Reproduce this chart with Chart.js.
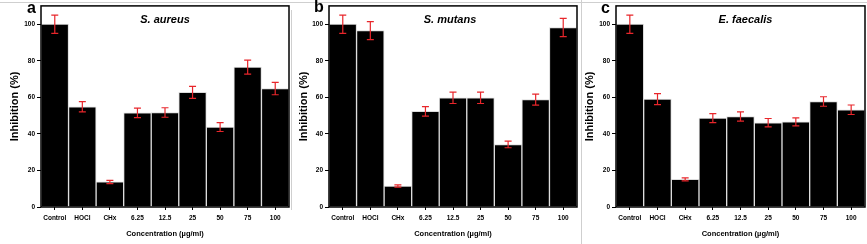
<!DOCTYPE html>
<html>
<head>
<meta charset="utf-8">
<script src="https://cdn.jsdelivr.net/npm/chart.js@4.4.0/dist/chart.umd.min.js"></script>
<style>
  body { margin: 0; background: #fff; width: 867px; height: 244px; overflow: hidden; position: relative; font-family: "Liberation Sans", Arial, sans-serif; }
  .panel { position: absolute; top: 0; height: 244px; }
  .letter { position: absolute; font-weight: bold; font-size: 16px; line-height: 16px; color: #000; }
  .sep { position: absolute; background: #cfcfcf; }
</style>
</head>
<body>
<div class="sep" style="left:0;top:2px;width:867px;height:1px"></div>
<div class="sep" style="left:291px;top:10px;width:1px;height:200px"></div>
<div class="sep" style="left:581px;top:0;width:1px;height:244px"></div>
<canvas id="chartA" class="panel" style="left:0" width="290" height="244"></canvas>
<canvas id="chartB" class="panel" style="left:290px" width="290" height="244"></canvas>
<canvas id="chartC" class="panel" style="left:580px" width="287" height="244"></canvas>
<div class="letter" style="left:27px;top:0px">a</div>
<div class="letter" style="left:314px;top:-1px">b</div>
<div class="letter" style="left:601px;top:0px">c</div>
<script>
const categories = ['Control', 'HOCl', 'CHx', '6.25', '12.5', '25', '50', '75', '100'];

const aureusValues = [100, 54.8, 13.7, 51.5, 51.7, 62.7, 43.7, 76.5, 64.8];
const aureusErrors = [5, 2.8, 0.9, 2.6, 2.6, 3.3, 2.4, 3.8, 3.4];

const mutansValues = [100, 96.5, 11.5, 52.3, 59.7, 59.7, 34.2, 58.7, 98.2];
const mutansErrors = [5, 4.9, 0.6, 2.6, 3.1, 3.1, 1.8, 3.0, 5.0];

const faecalisValues = [100, 59, 15.1, 48.6, 49.5, 46.1, 46.6, 57.7, 53.2];
const faecalisErrors = [5, 3, 0.8, 2.5, 2.5, 2.3, 2.2, 2.6, 2.6];

// frame, species name and red error bars
const panelPlugin = {
  id: 'panelPlugin',
  afterDatasetsDraw(chart, args, opts) {
    const ctx = chart.ctx;
    const area = chart.chartArea;
    const yScale = chart.scales.y;
    const meta = chart.getDatasetMeta(0);
    ctx.save();
    ctx.strokeStyle = '#e8262b';
    ctx.lineWidth = 1.2;
    meta.data.forEach(function (bar, i) {
      const v = chart.data.datasets[0].data[i];
      const e = opts.errors[i];
      const yTop = yScale.getPixelForValue(v + e);
      const yBot = yScale.getPixelForValue(v - e);
      ctx.beginPath();
      ctx.moveTo(bar.x, yTop);
      ctx.lineTo(bar.x, yBot);
      ctx.moveTo(bar.x - 3.5, yTop);
      ctx.lineTo(bar.x + 3.5, yTop);
      ctx.moveTo(bar.x - 3.5, yBot);
      ctx.lineTo(bar.x + 3.5, yBot);
      ctx.stroke();
    });
    ctx.strokeStyle = '#000';
    ctx.lineWidth = 1.5;
    ctx.strokeRect(area.left, area.top, area.right - area.left, area.bottom - area.top);
    ctx.fillStyle = '#000';
    ctx.font = 'italic bold 11px "Liberation Sans", Arial, sans-serif';
    ctx.textAlign = 'center';
    ctx.textBaseline = 'middle';
    ctx.fillText(opts.name, (area.left + area.right) / 2 + (opts.shift || 0), area.top + 14);
    ctx.restore();
  }
};

function makeChart(id, values, errors, name, yWidth, rightPad, shift, titlePad) {
  return new Chart(document.getElementById(id), {
    type: 'bar',
    data: {
      labels: categories,
      datasets: [{
        data: values,
        backgroundColor: '#000',
        borderColor: '#dcdcdc',
        borderWidth: 1,
        categoryPercentage: 1,
        barPercentage: 1
      }]
    },
    plugins: [panelPlugin],
    options: {
      responsive: false,
      animation: false,
      layout: { padding: { top: 5, right: rightPad, left: 0, bottom: 0 } },
      plugins: {
        legend: { display: false },
        tooltip: { enabled: false },
        panelPlugin: { errors: errors, name: name, shift: shift }
      },
      scales: {
        x: {
          afterFit: function (scale) { scale.height = 37; },
          grid: { display: true, drawOnChartArea: false, offset: false, tickLength: 3, color: '#000', lineWidth: 1 },
          border: { display: false },
          ticks: {
            color: '#000', padding: 4, maxRotation: 0, autoSkip: false,
            font: { family: '"Liberation Sans", Arial, sans-serif', size: 6.5, weight: 'bold' }
          },
          title: {
            display: true, text: 'Concentration (\u00b5g/ml)', color: '#000',
            padding: { top: 4, bottom: 6 },
            font: { family: '"Liberation Sans", Arial, sans-serif', size: 7.5, weight: 'bold' }
          }
        },
        y: {
          min: 0, max: 110,
          afterFit: function (scale) { scale.width = yWidth; },
          afterBuildTicks: function (scale) {
            scale.ticks = scale.ticks.filter(function (t) { return t.value % 20 === 0; });
          },
          grid: { display: true, drawOnChartArea: false, tickLength: 4, color: '#000', lineWidth: 1 },
          border: { display: false },
          ticks: {
            stepSize: 20, color: '#000', padding: 2,
            font: { family: '"Liberation Sans", Arial, sans-serif', size: 6.5, weight: 'bold' }
          },
          title: {
            display: true, text: 'Inhibition (%)', color: '#000',
            padding: { top: titlePad, bottom: titlePad },
            font: { family: '"Liberation Sans", Arial, sans-serif', size: 11, weight: 'bold' }
          }
        }
      }
    }
  });
}

makeChart('chartA', aureusValues, aureusErrors, 'S. aureus', 41, 1, 0, 8);
makeChart('chartB', mutansValues, mutansErrors, 'S. mutans', 39, 3, -3, 7);
makeChart('chartC', faecalisValues, faecalisErrors, 'E. faecalis', 36, 2, 5, 3);
</script>
</body>
</html>
